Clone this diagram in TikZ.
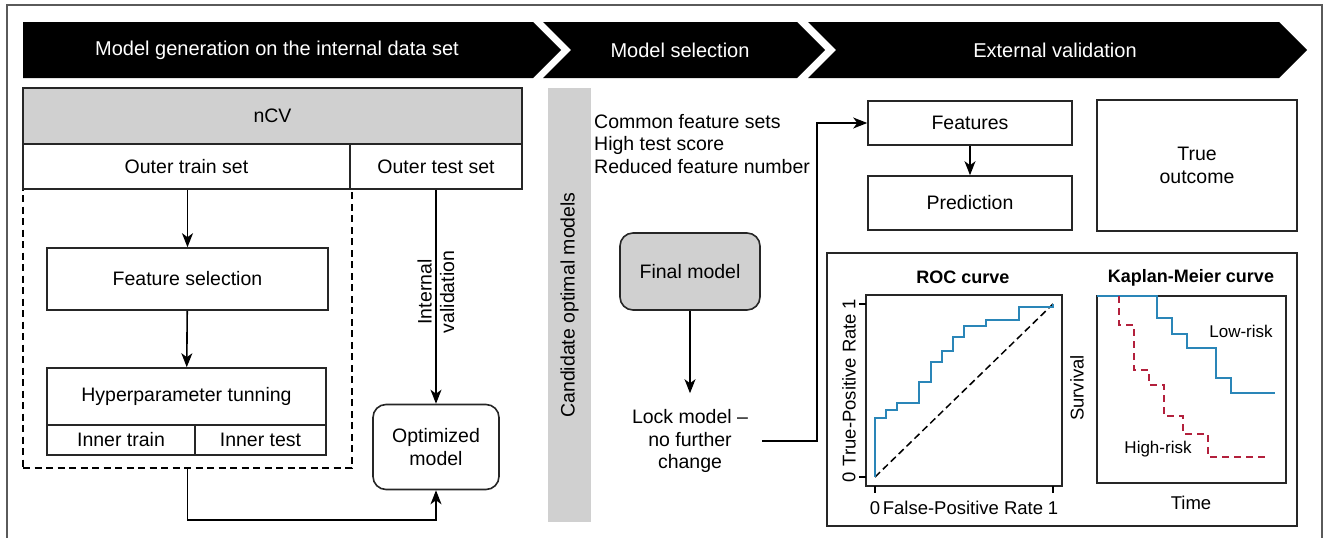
\documentclass[tikz,border=0pt]{standalone}
\usepackage{fontspec}
\setmainfont{Liberation Sans}
\usetikzlibrary{arrows.meta,positioning}
\definecolor{panelgray}{HTML}{D0D0D0}
\definecolor{framegray}{HTML}{5A5A5A}
\definecolor{rocblue}{HTML}{2A86B8}
\definecolor{riskred}{HTML}{B3203C}

\begin{document}
\begin{tikzpicture}[x=1pt, y=-1pt,
    txt/.style={font=\fontsize{19.5}{22.5}\selectfont, inner sep=0pt, align=center},
    box/.style={txt, draw=black!85, line width=1.6pt, fill=white},
    rbox/.style={box, rounded corners=13pt},
    arr/.style={-{Stealth[length=14pt,width=11pt,inset=4pt]}, line width=1.6pt},
    band/.style={txt, font=\fontsize{20}{22}\selectfont, text=white},
    ttl/.style={font=\fontsize{18}{20}\selectfont\bfseries, inner sep=0pt},
    axl/.style={font=\fontsize{18.5}{20}\selectfont, inner sep=0pt},
    lbl/.style={font=\fontsize{17}{20}\selectfont, inner sep=0pt}]
    \useasboundingbox (0,0) rectangle (1326,538);

    % Outer frame, open at the bottom
    \draw[framegray, line width=1.4pt] (7,545) -- (7,5) -- (1322,5) -- (1322,545);

    % Banner with the three stages
    \fill (23,22) -- (533,22) -- (561,50) -- (533,78) -- (23,78) -- cycle;
    \fill (543,22) -- (797,22) -- (825,50) -- (797,78) -- (543,78) -- (571,50) -- cycle;
    \fill (808,22) -- (1279,22) -- (1307,50) -- (1279,78) -- (808,78) -- (836,50) -- cycle;
    \node[band] (stagegen) at (277,50) {Model generation on the internal data set};
    \node[band] (stagesel) at (680,50) {Model selection};
    \node[band] (stageext) at (1055,50) {External validation};

    % Nested cross-validation
    \node[draw, dashed, dash pattern=on 7pt off 4.5pt, line width=1.6pt, inner sep=0pt,
          minimum width=329pt, minimum height=279pt] (innerloop) at (187.5,328.5) {};
    \node[box, fill=panelgray, minimum width=499pt, minimum height=56pt] (ncv) at (272.5,116) {nCV};
    \node[box, minimum width=327pt, minimum height=45pt] (outertrain) at (186.5,166.5) {Outer train set};
    \node[box, minimum width=172pt, minimum height=45pt] (outertest) at (436,166.5) {Outer test set};
    \node[box, minimum width=281pt, minimum height=62pt] (featsel) at (187.5,279) {Feature selection};
    \node[box, minimum width=279pt, minimum height=57pt] (hyper) at (186.5,396.5) {Hyperparameter tunning};
    \node[box, minimum width=148pt, minimum height=30pt] (innertrain) at (121,440) {Inner train};
    \node[box, minimum width=131pt, minimum height=30pt] (innertest) at (260.5,440) {Inner test};
    \node[rbox, minimum width=126pt, minimum height=85pt] (optimized) at (436,447) {Optimized\\model};
    \node[txt, rotate=90] (intval) at (436,292) {Internal\\validation};
    \draw[arr] (outertrain.south -| featsel.north) -- (featsel.north);
    \draw[arr] (featsel) -- (hyper);
    \draw[arr] (outertest) -- (optimized);
    \draw[arr] (innerloop.south) -- ++(0,51) -| (optimized.south);

    % Model selection
    \node[txt, fill=panelgray, rotate=90, minimum width=434pt, minimum height=43pt]
        (candbar) at (569.5,305) {Candidate optimal models};
    \node[txt, align=left, anchor=west] (criteria) at (594,144)
        {Common feature sets\\High test score\\Reduced feature number};
    \node[rbox, fill=panelgray, minimum width=140pt, minimum height=77pt] (final) at (690,271.5) {Final model};
    \node[txt] (lock) at (690,441) {Lock model --\\no further\\change};
    \draw[arr, shorten >=16pt] (final) -- (lock);

    % External validation
    \node[box, minimum width=204pt, minimum height=44pt] (features) at (970,123) {Features};
    \node[box, minimum width=204pt, minimum height=54pt] (prediction) at (970,203) {Prediction};
    \node[box, minimum width=200pt, minimum height=131pt] (outcome) at (1197,165.5) {True\\outcome};
    \draw[arr] (features) -- (prediction);
    \draw[arr] ([xshift=14pt]lock.east) -- ++(55,0) |- (features);

    % Panel with the two curves
    \node[box, minimum width=470pt, minimum height=273pt] (curves) at (1062,389.5) {};

    % ROC curve
    \node[ttl] (roctitle) at (963,277) {ROC curve};
    \draw[black!85, line width=1.6pt] (866,295) rectangle (1062,486);
    \foreach \y in {304,477} \draw[line width=1.3pt] (859,\y) -- (866,\y);
    \foreach \x in {875,1053} \draw[line width=1.3pt] (\x,486) -- (\x,493);
    \node[axl, rotate=90] (rocyzero) at (849,477) {0};
    \node[axl, rotate=90] (rocyone) at (849,304) {1};
    \node[axl, rotate=90] (rocylabel) at (849,390) {True-Positive Rate};
    \node[axl] (rocxzero) at (875,508) {0};
    \node[axl] (rocxone) at (1053,508) {1};
    \node[axl] (rocxlabel) at (963,508) {False-Positive Rate};
    \draw[dashed, dash pattern=on 7pt off 4pt, line width=1.5pt] (875,477) -- (1053,304);
    \draw[rocblue, line width=1.8pt] (875,477) |- (886,418) |- (897,410) |- (919,403)
        |- (931,382) |- (942,362) |- (953,351) |- (964,337) |- (986,326) |- (1019,320)
        |- (1053,307) -- (1053,304);

    % Kaplan-Meier curve
    \node[ttl] (kmtitle) at (1191,278) {Kaplan-Meier curve};
    \draw[black!85, line width=1.6pt] (1097,296) rectangle (1286,483);
    \node[axl, rotate=90] (kmylabel) at (1077,388) {Survival};
    \node[axl] (kmxlabel) at (1191,503) {Time};
    \draw[rocblue, line width=1.8pt] (1097,296) -| (1157,318) -| (1172,334) -| (1187,348)
        -| (1216,378) -| (1231,393) -- (1275,393);
    \draw[riskred, dashed, dash pattern=on 7pt off 5pt, line width=1.8pt] (1119,296) |- (1134,325)
        |- (1149,370) |- (1164,385) |- (1183,416) |- (1208,434) |- (1268,457);
    \node[lbl] (lowrisk) at (1241,331) {Low-risk};
    \node[lbl] (highrisk) at (1158,449) {High-risk};
\end{tikzpicture}
\end{document}
